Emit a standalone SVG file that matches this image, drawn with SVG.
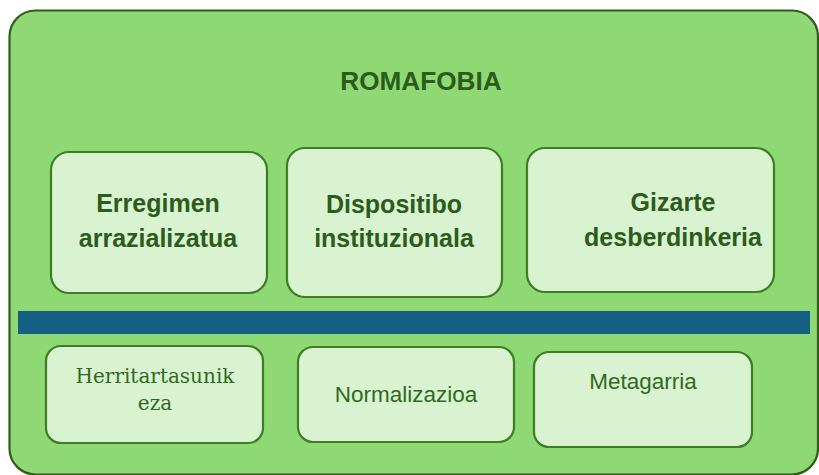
<svg xmlns="http://www.w3.org/2000/svg" width="819" height="475" viewBox="0 0 819 475">
<style>
.box{fill:#d9f2d0;stroke:#3e7d23;stroke-width:2.2}
.bt{font-family:"Liberation Sans",Arial,sans-serif;font-weight:bold;font-size:25px;fill:#2b5c1c;text-anchor:middle}
.st{font-family:"Liberation Sans",Arial,sans-serif;font-size:22.5px;fill:#2f6a22;text-anchor:middle}
.sf{font-family:"DejaVu Serif","Liberation Serif",serif;font-size:20px;fill:#2f6a22;text-anchor:middle}
</style>
<rect id="outer" x="9.5" y="10.5" width="808.5" height="464" rx="26" fill="#8ed973" stroke="#2f5e1a" stroke-width="2.2"/>
<text class="bt" x="421" y="90" style="font-size:26.2px">ROMAFOBIA</text>
<g id="bar"><rect x="18" y="311" width="792" height="23" fill="#155f82"/></g>
<g id="n1"><rect class="box" x="51" y="152" width="216" height="141" rx="18"/><text class="bt" x="158" y="212">Erregimen</text><text class="bt" x="158" y="247">arrazializatua</text></g>
<g id="n2"><rect class="box" x="287" y="148" width="215" height="149" rx="18"/><text class="bt" x="394" y="213">Dispositibo</text><text class="bt" x="394" y="247">instituzionala</text></g>
<g id="n3"><rect class="box" x="527" y="148" width="247" height="144" rx="18"/><text class="bt" x="673" y="211">Gizarte</text><text class="bt" x="673" y="246">desberdinkeria</text></g>
<g id="n4"><rect class="box" x="46" y="346" width="217" height="97" rx="15"/><text class="sf" x="155" y="383">Herritartasunik</text><text class="sf" x="155" y="410">eza</text></g>
<g id="n5"><rect class="box" x="298" y="347" width="216" height="95" rx="15"/><text class="st" x="406" y="402">Normalizazioa</text></g>
<g id="n6"><rect class="box" x="534" y="352" width="218" height="95" rx="15"/><text class="st" x="643" y="389">Metagarria</text></g>
<g id="connectors"/>
</svg>
